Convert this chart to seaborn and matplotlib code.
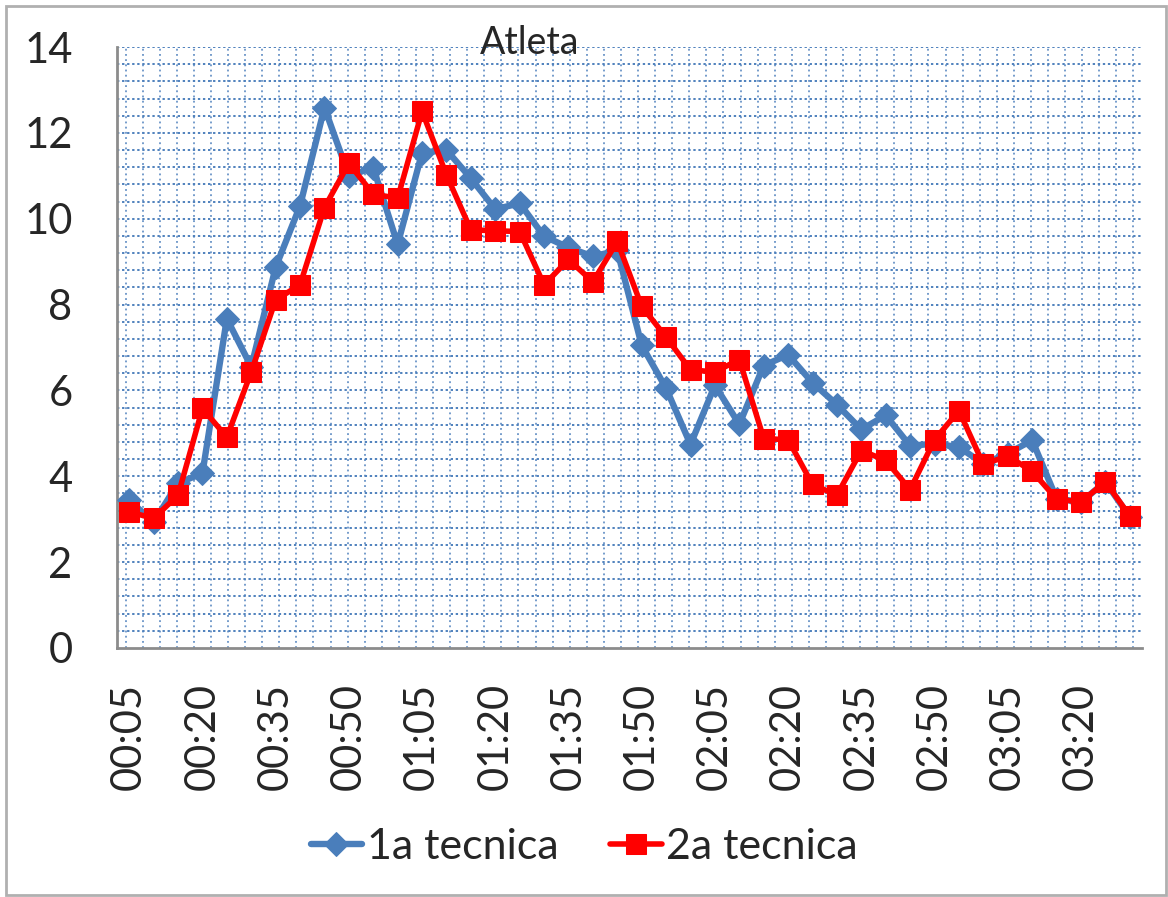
import numpy as np
import pandas as pd
import seaborn as sns
import matplotlib.pyplot as plt
from matplotlib.patches import Rectangle

# time labels (every 5 s)
times = ['00:05', '00:10', '00:15', '00:20', '00:25', '00:30', '00:35', '00:40', '00:45',
         '00:50', '00:55', '01:00', '01:05', '01:10', '01:15', '01:20', '01:25', '01:30',
         '01:35', '01:40', '01:45', '01:50', '01:55', '02:00', '02:05', '02:10', '02:15',
         '02:20', '02:25', '02:30', '02:35', '02:40', '02:45', '02:50', '02:55', '03:00',
         '03:05', '03:10', '03:15', '03:20', '03:25', '03:30']

tecnica_1 = [3.44, 2.93, 3.84, 4.07, 7.67, 6.55, 8.87, 10.30, 12.59, 11.00, 11.19, 9.40,
             11.54, 11.60, 10.94, 10.22, 10.36, 9.59, 9.33, 9.12, 9.26, 7.05, 6.05, 4.74,
             6.12, 5.21, 6.58, 6.83, 6.18, 5.67, 5.09, 5.42, 4.71, 4.76, 4.68, 4.29,
             4.53, 4.84, 3.48, 3.40, 3.87, 3.05]

tecnica_2 = [3.17, 3.02, 3.56, 5.58, 4.91, 6.43, 8.11, 8.46, 10.26, 11.29, 10.57, 10.48,
             12.50, 11.02, 9.74, 9.72, 9.70, 8.46, 9.05, 8.53, 9.47, 7.96, 7.24, 6.48,
             6.43, 6.72, 4.88, 4.85, 3.81, 3.56, 4.60, 4.37, 3.69, 4.85, 5.53, 4.28,
             4.47, 4.12, 3.47, 3.40, 3.87, 3.08]

tick_labels = times[::3]

df = pd.DataFrame({'pos': np.arange(len(times)), 'tempo': times,
                   't1': tecnica_1, 't2': tecnica_2})

sns.set_theme(style="white")
plt.rcParams['font.family'] = ['Lato', 'DejaVu Sans']

fig = plt.figure(figsize=(11.68, 8.97), dpi=100)
ax = fig.add_axes([0.1002, 0.2776, 0.8775, 0.670])

blue = '#4a7ebb'
red = '#ff0000'

sns.lineplot(data=df, x='pos', y='t1', ax=ax, color=blue, lw=4.6, marker='D',
             markersize=12, markeredgecolor=blue, label='1a tecnica', zorder=3)
sns.lineplot(data=df, x='pos', y='t2', ax=ax, color=red, lw=4.0, marker='s',
             markersize=15, markeredgecolor=red, label='2a tecnica', zorder=4)

ax.set_xlim(-0.5, len(times) - 0.5)
ax.set_ylim(0, 14)

# dotted grid like Excel
for yv in np.arange(0.4, 14.01, 0.4):
    ax.axhline(yv, color='#4f81bd', lw=1.4, ls=(0, (1.2, 1.4)), zorder=1)
for xv in np.arange(-0.15, len(times) - 0.5, 0.7):
    ax.axvline(xv, color='#4f81bd', lw=1.1, ls=(0, (1.2, 2.2)), zorder=1)

ax.set_yticks(np.arange(0, 15, 2))
ax.set_xticks(df['pos'][::3])
ax.set_xticklabels(tick_labels, rotation=90)
ax.tick_params(axis='y', length=0, pad=32, labelsize=30)
ax.tick_params(axis='x', length=0, pad=25, labelsize=30)
ax.set_xlabel('')
ax.set_ylabel('')

for s in ['top', 'right']:
    ax.spines[s].set_visible(False)
for s in ['left', 'bottom']:
    ax.spines[s].set_color('#8c8c8c')
    ax.spines[s].set_linewidth(2)

fig.text(530 / 1168, 1 - 43 / 897, 'Atleta', ha='center', va='center', fontsize=27)

ax.legend(loc='center', bbox_to_anchor=(0.5, 1 - 847 / 897), bbox_transform=fig.transFigure,
          ncol=2, frameon=False, fontsize=31, handlelength=1.2, handletextpad=0.1,
          columnspacing=1.2)

fig.patches.append(Rectangle((6 / 1168, 1 - 895 / 897), 1160 / 1168, 889 / 897,
                             transform=fig.transFigure, fill=False,
                             edgecolor='#b0b0b0', lw=2))

plt.savefig('out.png', dpi=100)
